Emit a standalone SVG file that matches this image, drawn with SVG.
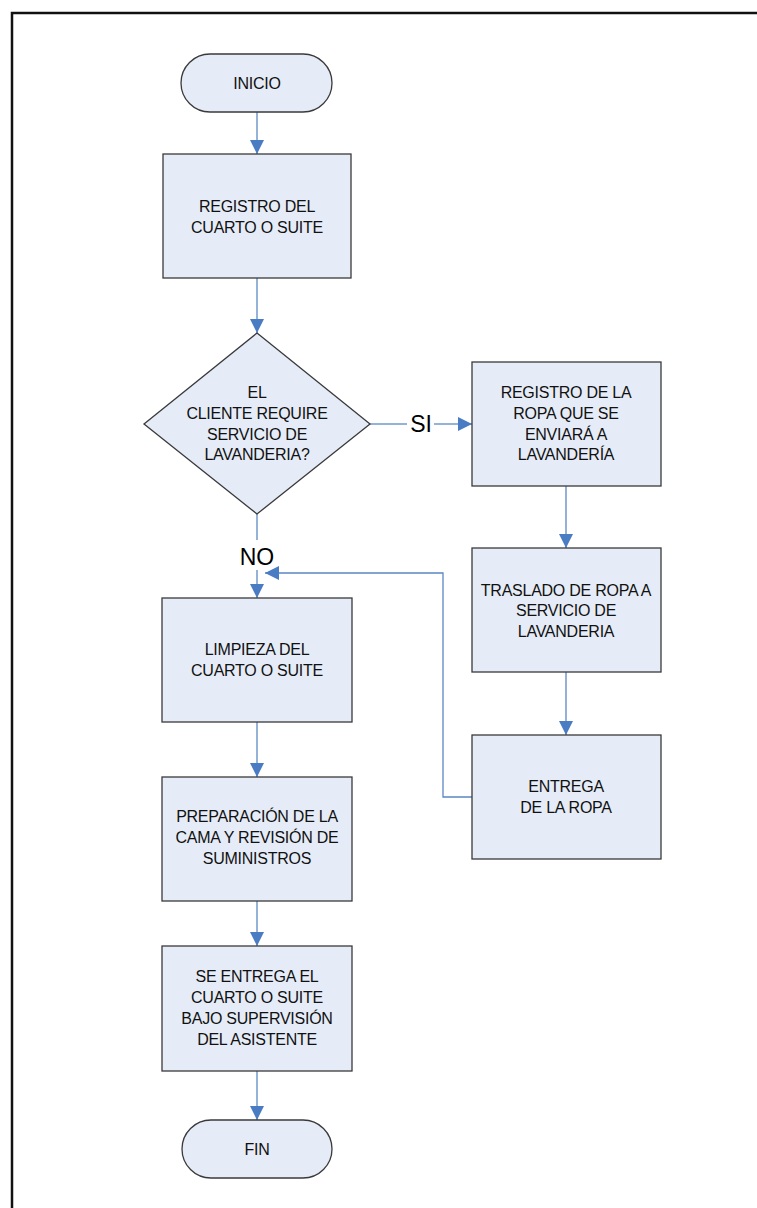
<svg xmlns="http://www.w3.org/2000/svg" width="757" height="1208" viewBox="0 0 757 1208">
  <style>
    .box { fill: #e6ecf7; stroke: #3a3a3a; stroke-width: 1.3; }
    .txt { font-family: "Liberation Sans", Arial, sans-serif; font-size: 16px; letter-spacing: -0.25px; fill: #111; text-anchor: middle; }
    .lbl { font-family: "Liberation Sans", Arial, sans-serif; font-size: 23px; fill: #000; text-anchor: middle; }
    .flow { fill: none; stroke: #95b3d7; stroke-width: 2; }
    .flow2 { fill: none; stroke: #5b87c5; stroke-width: 1.3; }
  </style>
  <defs>
    <marker id="arrow" viewBox="0 0 14 14" refX="14" refY="7" markerWidth="14" markerHeight="14" markerUnits="userSpaceOnUse" orient="auto">
      <path d="M0,0 L14,7 L0,14 Z" fill="#4a7cc4"/>
    </marker>
  </defs>

  <rect x="0" y="0" width="757" height="1208" fill="#fff"/>
  <!-- page frame -->
  <rect x="12" y="13" width="770" height="1230" fill="none" stroke="#111" stroke-width="2.5"/>

  <g id="connectors">
    <path class="flow" d="M257,112 V154" marker-end="url(#arrow)"/>
    <path class="flow" d="M257,278 V333" marker-end="url(#arrow)"/>
    <path class="flow" d="M370,424 H407"/>
    <path class="flow" d="M434,424 H472" marker-end="url(#arrow)"/>
    <path class="flow" d="M257,514 V540"/>
    <path class="flow" d="M257,570 V598" marker-end="url(#arrow)"/>
    <path class="flow2" d="M566,486 V548" marker-end="url(#arrow)"/>
    <path class="flow2" d="M566,672 V735" marker-end="url(#arrow)"/>
    <path class="flow2" d="M472,797 H443 V573 H265" marker-end="url(#arrow)"/>
    <path class="flow" d="M257,722 V777" marker-end="url(#arrow)"/>
    <path class="flow" d="M257,901 V946" marker-end="url(#arrow)"/>
    <path class="flow" d="M257,1071 V1120" marker-end="url(#arrow)"/>
    <text class="lbl" x="421" y="432">SI</text>
    <text class="lbl" x="257" y="565">NO</text>
  </g>

  <g id="inicio">
    <rect class="box" x="181" y="54" width="151" height="58" rx="29" ry="29"/>
    <text class="txt" x="257" y="89">INICIO</text>
  </g>

  <g id="registro-cuarto">
    <rect class="box" x="163" y="154" width="188" height="124"/>
    <text class="txt" x="257" y="212">REGISTRO DEL</text>
    <text class="txt" x="257" y="232.5">CUARTO O SUITE</text>
  </g>

  <g id="decision-lavanderia">
    <polygon class="box" points="257,333 370,424 257,514 144,424"/>
    <text class="txt" x="257" y="398">EL</text>
    <text class="txt" x="257" y="419">CLIENTE REQUIRE</text>
    <text class="txt" x="257" y="439.5">SERVICIO DE</text>
    <text class="txt" x="257" y="460">LAVANDERIA?</text>
  </g>

  <g id="registro-ropa">
    <rect class="box" x="472" y="362" width="189" height="124"/>
    <text class="txt" x="566" y="397.5">REGISTRO DE LA</text>
    <text class="txt" x="566" y="418.5">ROPA QUE SE</text>
    <text class="txt" x="566" y="439.5">ENVIARÁ A</text>
    <text class="txt" x="566" y="460">LAVANDERÍA</text>
  </g>

  <g id="traslado-ropa">
    <rect class="box" x="472" y="548" width="189" height="124"/>
    <text class="txt" x="566" y="595.5">TRASLADO DE ROPA A</text>
    <text class="txt" x="566" y="616">SERVICIO DE</text>
    <text class="txt" x="566" y="636.5">LAVANDERIA</text>
  </g>

  <g id="entrega-ropa">
    <rect class="box" x="472" y="735" width="189" height="124"/>
    <text class="txt" x="566" y="792">ENTREGA</text>
    <text class="txt" x="566" y="813">DE LA ROPA</text>
  </g>

  <g id="limpieza">
    <rect class="box" x="162" y="598" width="190" height="124"/>
    <text class="txt" x="257" y="655">LIMPIEZA DEL</text>
    <text class="txt" x="257" y="676">CUARTO O SUITE</text>
  </g>

  <g id="preparacion">
    <rect class="box" x="162" y="777" width="190" height="124"/>
    <text class="txt" x="257" y="822">PREPARACIÓN DE LA</text>
    <text class="txt" x="257" y="843">CAMA Y REVISIÓN DE</text>
    <text class="txt" x="257" y="864">SUMINISTROS</text>
  </g>

  <g id="entrega-cuarto">
    <rect class="box" x="162" y="946" width="190" height="125"/>
    <text class="txt" x="257" y="982">SE ENTREGA EL</text>
    <text class="txt" x="257" y="1003">CUARTO O SUITE</text>
    <text class="txt" x="257" y="1024">BAJO SUPERVISIÓN</text>
    <text class="txt" x="257" y="1045">DEL ASISTENTE</text>
  </g>

  <g id="fin">
    <rect class="box" x="182" y="1120" width="150" height="58" rx="29" ry="29"/>
    <text class="txt" x="257" y="1155">FIN</text>
  </g>
</svg>
